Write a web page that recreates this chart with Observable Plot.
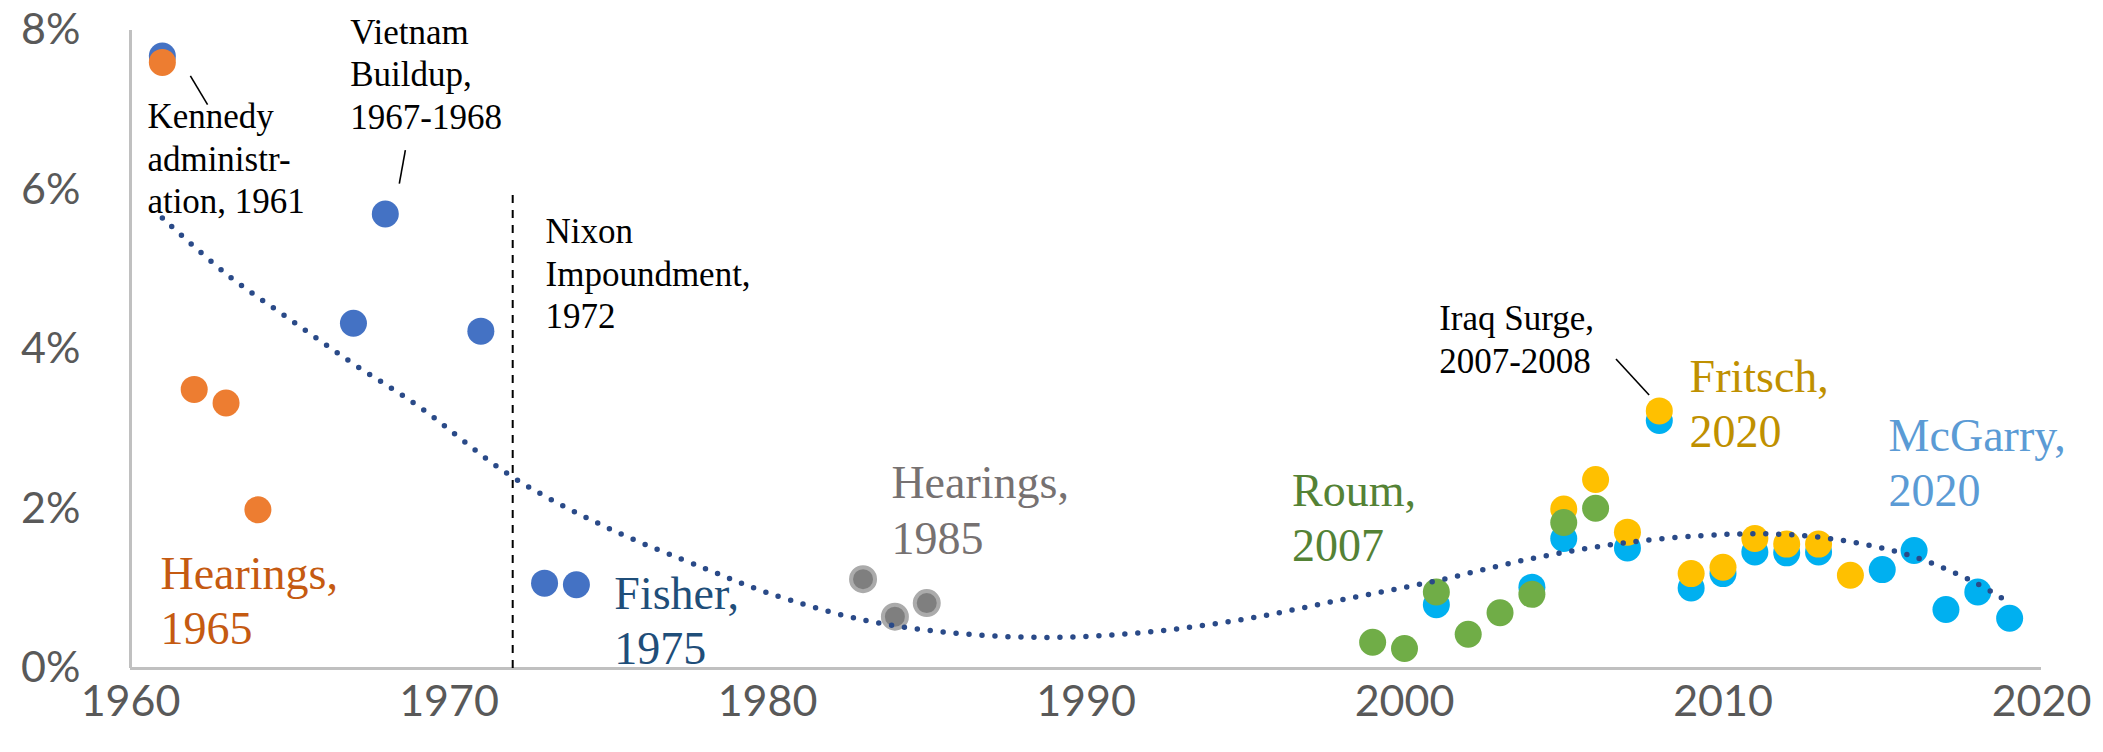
<!DOCTYPE html>
<html><head><meta charset="utf-8">
<script src="https://cdn.jsdelivr.net/npm/d3@7"></script>
<script src="https://cdn.jsdelivr.net/npm/@observablehq/plot@0.6"></script>
<style>body{margin:0;background:#fff;} #chart svg{display:block;}</style>
</head><body><div id="chart"></div>
<script>
// ---- data (percent) ----
const hearings1965Years = [1961, 1962, 1963, 1964];
const hearings1965Values = [7.60, 3.50, 3.33, 1.99];
const fisherYears = [1961, 1967, 1968, 1971, 1973, 1974];
const fisherValues = [7.68, 4.33, 5.70, 4.23, 1.07, 1.05];
const hearings1985Years = [1983, 1984, 1985];
const hearings1985Values = [1.12, 0.65, 0.82];
const roumYears = [1999, 2000, 2001, 2002, 2003, 2004, 2005, 2006];
const roumValues = [0.33, 0.25, 0.96, 0.43, 0.70, 0.93, 1.83, 2.01];
const fritschYears = [2005, 2006, 2007, 2008, 2009, 2010, 2011, 2012, 2013, 2014];
const fritschValues = [2.00, 2.37, 1.71, 3.23, 1.19, 1.27, 1.63, 1.56, 1.56, 1.17];
const mcgarryYears = [2001, 2004, 2005, 2007, 2008, 2009, 2010, 2011, 2012, 2013, 2015, 2016, 2017, 2018, 2019];
const mcgarryValues = [0.80, 1.02, 1.63, 1.51, 3.11, 1.01, 1.19, 1.46, 1.45, 1.46, 1.24, 1.48, 0.74, 0.96, 0.63];
// trend line
const trendYears = [1961, 1963, 1965, 1967, 1969, 1972, 1975, 1978, 1980, 1983, 1986, 1989, 1992, 1995, 1998, 2001, 2004, 2007, 2010, 2012, 2014, 2016, 2018, 2019];
const trendValues = [5.65, 4.95, 4.38, 3.82, 3.30, 2.40, 1.76, 1.26, 0.95, 0.61, 0.44, 0.39, 0.46, 0.62, 0.86, 1.10, 1.38, 1.58, 1.68, 1.68, 1.59, 1.40, 1.06, 0.82];
// axis ticks
const xTicks = [1960, 1970, 1980, 1990, 2000, 2010, 2020];
const yTicks = [0, 2, 4, 6, 8];
// annotations
const nixonYear = 1972;
const nixonTop = 5.95;
const noteTexts = ["Kennedy\nadministr-\nation, 1961", "Vietnam\nBuildup,\n1967-1968", "Nixon\nImpoundment,\n1972", "Iraq Surge,\n2007-2008"];
const noteYears = [1960.53, 1966.9, 1973.03, 2001.09];
const noteValues = [5.71, 6.77, 4.27, 3.71];
const seriesLabels = ["Hearings,\n1965", "Fisher,\n1975", "Hearings,\n1985", "Roum,\n2007", "Fritsch,\n2020", "McGarry,\n2020"];
const seriesLabelYears = [1960.94, 1975.19, 1983.89, 1996.47, 2008.95, 2015.2];
const seriesLabelValues = [0.31, 0.06, 1.44, 1.35, 2.78, 2.04];
const seriesLabelColors = ["#C55A11", "#1F4E79", "#767171", "#548235", "#BF9000", "#5B9BD5"];
const leaderX1 = [1961.88, 1968.63, 2006.64];
const leaderY1 = [7.43, 6.50, 3.88];
const leaderX2 = [1962.42, 1968.44, 2007.68];
const leaderY2 = [7.07, 6.08, 3.43];

const pts = (xs, ys) => xs.map((x, i) => ({x, y: ys[i]}));
const trend = pts(trendYears, trendValues);
const notes = noteTexts.map((t, i) => ({t, x: noteYears[i], y: noteValues[i]}));
const sLabels = seriesLabels.map((t, i) => ({t, x: seriesLabelYears[i], y: seriesLabelValues[i], c: seriesLabelColors[i]}));
const leaders = leaderX1.map((x1, i) => ({x1, y1: leaderY1[i], x2: leaderX2[i], y2: leaderY2[i]}));

const R = 13.5;
const chart = Plot.plot({
  width: 2103,
  height: 752,
  marginLeft: 130,
  marginRight: 62,
  marginTop: 30,
  marginBottom: 84,
  style: {fontFamily: "Lato, sans-serif", fontSize: "43px", color: "#595959", background: "#fff"},
  x: {domain: [1960, 2020]},
  y: {domain: [0, 8]},
  marks: [
    Plot.axisX({ticks: xTicks, tickFormat: d => String(d), tickSize: 0, tickPadding: 17, fontSize: 43, label: null}),
    Plot.axisY({ticks: yTicks, tickFormat: d => d + "%", tickSize: 0, tickPadding: 50, fontSize: 43, label: null}),
    Plot.ruleX([1960], {y1: 0, y2: 8, stroke: "#c0c0c0", strokeWidth: 3}),
    Plot.ruleY([0], {stroke: "#c0c0c0", strokeWidth: 3}),
    Plot.ruleX([nixonYear], {y1: 0, y2: nixonTop, stroke: "#000", strokeWidth: 2, strokeDasharray: "8 7"}),
    Plot.dot(pts(fisherYears, fisherValues), {x: "x", y: "y", r: R, fill: "#4472C4"}),
    Plot.dot(pts(hearings1965Years, hearings1965Values), {x: "x", y: "y", r: R, fill: "#ED7D31"}),
    Plot.dot(pts(hearings1985Years, hearings1985Values), {x: "x", y: "y", r: R - 1.5, fill: "#7F7F7F", stroke: "#ababab", strokeWidth: 4}),
    Plot.dot(pts(mcgarryYears, mcgarryValues), {x: "x", y: "y", r: R, fill: "#00B0F0"}),
    Plot.dot(pts(fritschYears, fritschValues), {x: "x", y: "y", r: R, fill: "#FFC000"}),
    Plot.dot(pts(roumYears, roumValues), {x: "x", y: "y", r: R, fill: "#70AD47"}),
    Plot.line(trend, {x: "x", y: "y", curve: "catmull-rom", stroke: "#2A4A88", strokeWidth: 5.5, strokeDasharray: "0 13", strokeLinecap: "round"}),
    Plot.link(leaders, {x1: "x1", y1: "y1", x2: "x2", y2: "y2", stroke: "#000", strokeWidth: 1.6}),
    Plot.text(notes, {x: "x", y: "y", text: "t", textAnchor: "start", lineAnchor: "bottom", fontFamily: "Liberation Serif, serif", fontSize: 35, lineHeight: 1.21, fill: "#000"}),
    Plot.text(sLabels, {x: "x", y: "y", text: "t", textAnchor: "start", lineAnchor: "bottom", fontFamily: "Liberation Serif, serif", fontSize: 46, lineHeight: 1.2, fill: d => d.c})
  ]
});
document.getElementById("chart").appendChild(chart);
</script>
</body></html>
